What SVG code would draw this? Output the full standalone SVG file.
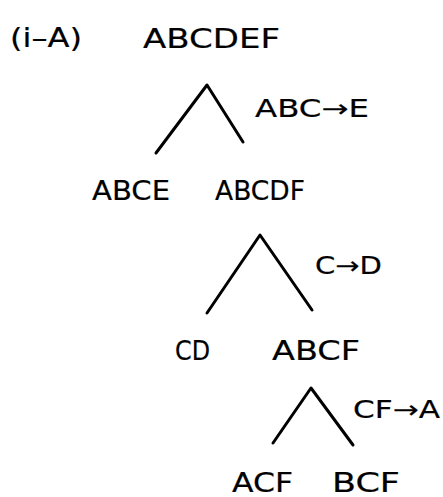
<svg xmlns="http://www.w3.org/2000/svg" width="443" height="497" viewBox="0 0 443 497">
  <style>
    .t { font-family: "DejaVu Sans", "Liberation Sans", sans-serif; font-size: 26px; fill: #000; stroke: #000; stroke-width: 0.2; }
    .l { font-size: 24px; }
    .e { fill: none; stroke: #000; stroke-width: 3; stroke-linecap: round; stroke-linejoin: round; }
  </style>
  <rect width="443" height="497" fill="#fff"/>

  <g id="title">
    <text class="t" x="10" y="47" textLength="72" lengthAdjust="spacingAndGlyphs">(i–A)</text>
  </g>

  <g id="n-root">
    <text class="t" x="143" y="48" textLength="137" lengthAdjust="spacingAndGlyphs">ABCDEF</text>
  </g>
  <g id="n-abce">
    <text class="t" x="92" y="200" textLength="78" lengthAdjust="spacingAndGlyphs">ABCE</text>
  </g>
  <g id="n-abcdf">
    <text class="t" x="215" y="200" textLength="90" lengthAdjust="spacingAndGlyphs">ABCDF</text>
  </g>
  <g id="n-cd">
    <text class="t" x="175" y="360" textLength="35" lengthAdjust="spacingAndGlyphs">CD</text>
  </g>
  <g id="n-abcf">
    <text class="t" x="272" y="360" textLength="88" lengthAdjust="spacingAndGlyphs">ABCF</text>
  </g>
  <g id="n-acf">
    <text class="t" x="232" y="492" textLength="61" lengthAdjust="spacingAndGlyphs">ACF</text>
  </g>
  <g id="n-bcf">
    <text class="t" x="332" y="492" textLength="68" lengthAdjust="spacingAndGlyphs">BCF</text>
  </g>

  <g id="connectors">
    <polyline class="e" points="156,153 207,85 243,142"/>
    <text class="t l" x="255" y="117" textLength="114" lengthAdjust="spacingAndGlyphs">ABC→E</text>
    <polyline class="e" points="207,313 260,235 312,310"/>
    <text class="t l" x="315" y="274" textLength="67" lengthAdjust="spacingAndGlyphs">C→D</text>
    <polyline class="e" points="273,443 311,388 353,445"/>
    <text class="t l" x="353" y="418" textLength="87" lengthAdjust="spacingAndGlyphs">CF→A</text>
  </g>
</svg>
